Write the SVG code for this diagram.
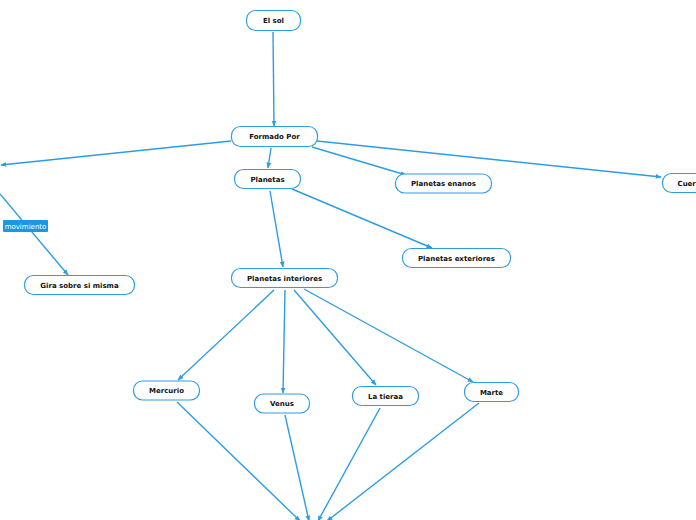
<svg xmlns="http://www.w3.org/2000/svg" width="696" height="520" viewBox="0 0 696 520">
<style>
.n rect{fill:#fff;stroke:#2d9de3;stroke-width:1.2}
.n text{font-family:"DejaVu Sans",Verdana,sans-serif;font-weight:bold;font-size:7px;fill:#111;text-anchor:middle}
.c line{stroke:#2d9de3;stroke-width:1.4;fill:none}
.lbl rect{fill:#1e96e0}
.lbl text{font-family:"DejaVu Sans",Verdana,sans-serif;font-size:7px;fill:#fff;text-anchor:middle}
</style>
<defs>
<marker id="a" viewBox="0 0 10 10" refX="9" refY="5" markerWidth="6" markerHeight="6" orient="auto" markerUnits="userSpaceOnUse">
<path d="M0,1 L10,5 L0,9 Z" fill="#2d9de3"/>
</marker>
</defs>
<rect width="696" height="520" fill="#fff"/>
<g class="c">
<line x1="273" y1="32" x2="274" y2="126" marker-end="url(#a)"/>
<line x1="231" y1="141" x2="1" y2="165" marker-end="url(#a)"/>
<line x1="0" y1="194" x2="68" y2="275" marker-end="url(#a)"/>
<line x1="271" y1="148" x2="268" y2="168" marker-end="url(#a)"/>
<line x1="312" y1="147" x2="406" y2="175" marker-end="url(#a)"/>
<line x1="317" y1="141" x2="661" y2="177" marker-end="url(#a)"/>
<line x1="292" y1="189" x2="432" y2="248" marker-end="url(#a)"/>
<line x1="270" y1="191" x2="283" y2="267" marker-end="url(#a)"/>
<line x1="274" y1="290" x2="178" y2="380" marker-end="url(#a)"/>
<line x1="285" y1="290" x2="283" y2="393" marker-end="url(#a)"/>
<line x1="294" y1="290" x2="376" y2="385" marker-end="url(#a)"/>
<line x1="304" y1="289" x2="473" y2="382" marker-end="url(#a)"/>
<line x1="177" y1="402" x2="300" y2="521" marker-end="url(#a)"/>
<line x1="285" y1="415" x2="309" y2="521" marker-end="url(#a)"/>
<line x1="380" y1="408" x2="318" y2="521" marker-end="url(#a)"/>
<line x1="479" y1="403" x2="327" y2="521" marker-end="url(#a)"/>
</g>
<g class="lbl" id="lbl-movimiento">
<rect x="3" y="220" width="45" height="12" rx="1"/>
<text x="25.5" y="228.5">movimiento</text>
</g>
<g class="n" id="n-elsol"><rect x="246.5" y="10.5" width="54" height="20" rx="9"/><text x="273.5" y="23">El sol</text></g>
<g class="n" id="n-formado"><rect x="231.5" y="126.5" width="86" height="20" rx="9"/><text x="274.5" y="139">Formado Por</text></g>
<g class="n" id="n-planetas"><rect x="234.5" y="169.5" width="66" height="19" rx="9"/><text x="267.5" y="181.5">Planetas</text></g>
<g class="n" id="n-enanos"><rect x="395.5" y="174" width="96" height="19" rx="9"/><text x="443.5" y="186">Planetas enanos</text></g>
<g class="n" id="n-cuer"><rect x="662.5" y="173.5" width="80" height="19" rx="9"/><text x="677.5" y="185.5" style="text-anchor:start">Cuer</text></g>
<g class="n" id="n-exteriores"><rect x="402.5" y="248.5" width="108" height="19" rx="9"/><text x="456.5" y="260.5">Planetas exteriores</text></g>
<g class="n" id="n-interiores"><rect x="231.5" y="268.5" width="106" height="19" rx="9"/><text x="284.5" y="280.5">Planetas interiores</text></g>
<g class="n" id="n-gira"><rect x="24.5" y="275.5" width="110" height="19" rx="9"/><text x="79.5" y="287.5">Gira sobre si misma</text></g>
<g class="n" id="n-mercurio"><rect x="133.5" y="381" width="66" height="19" rx="9"/><text x="166.5" y="393">Mercurio</text></g>
<g class="n" id="n-venus"><rect x="254.5" y="394" width="55" height="19" rx="9"/><text x="282" y="406">Venus</text></g>
<g class="n" id="n-tierra"><rect x="352.5" y="386.5" width="66" height="19" rx="9"/><text x="385.5" y="398.5">La tieraa</text></g>
<g class="n" id="n-marte"><rect x="464.5" y="382.5" width="54" height="19" rx="9"/><text x="491.5" y="394.5">Marte</text></g>
</svg>
